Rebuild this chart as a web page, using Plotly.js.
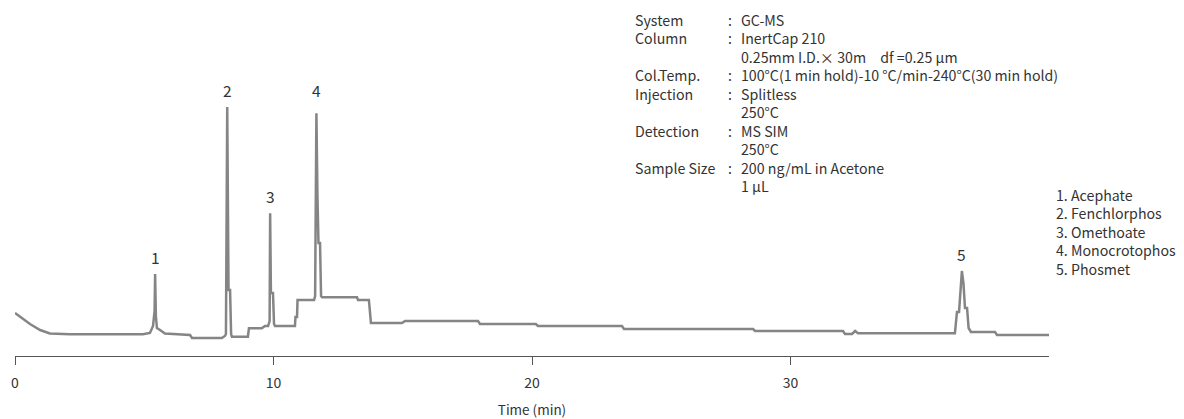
<!DOCTYPE html>
<html><head><meta charset="utf-8">
<script src="https://cdn.plot.ly/plotly-3.0.1.min.js"></script>
<style>html,body{margin:0;padding:0;background:#fff}#chart{width:1184px;height:419px}</style>
</head><body><div id="chart"></div>
<script>
// Chromatogram (time in min, detector response in arbitrary units)
const timeMin = [0, 0.27, 0.58, 0.97, 1.35, 2.13, 4.95, 5.22, 5.34, 5.40, 5.42, 5.45, 5.49, 5.61, 5.80, 6.77, 6.85, 8.00, 8.12,
  8.16, 8.21, 8.26, 8.32, 8.36, 8.39, 9.01, 9.05, 9.55, 9.67, 9.79, 9.85, 9.87, 9.90, 9.98, 10.02, 10.06,
  10.83, 10.85, 10.91, 10.93, 11.57, 11.61, 11.66, 11.70, 11.74, 11.80, 11.84, 11.88, 13.23, 13.27, 13.69, 13.77,
  14.97, 15.09, 17.91, 17.99, 20.15, 20.23, 23.48, 23.56, 28.55, 28.63, 32.03, 32.11, 32.38, 32.50, 32.61, 36.36,
  36.44, 36.52, 36.58, 36.63, 36.69, 36.75, 36.83, 36.89, 36.98, 37.91, 37.99, 40.0];
const signal = [43, 38, 32, 26, 22.5, 21.7, 21.7, 23, 30, 45, 82, 40, 28, 26, 22.5, 21, 18, 18, 20,
  22, 249, 66, 66, 22, 19.3, 19.3, 27.7, 27.7, 30, 30, 35, 142.7, 63, 63, 32, 30,
  30, 39, 39, 56, 56, 60, 242.7, 160, 113, 113, 60, 58.7, 58.7, 56, 56, 33,
  33, 35, 35, 32, 32, 30, 30, 27, 27, 25, 25, 22, 22, 25, 22.7, 22.7,
  44, 44, 73, 85, 73, 48, 48, 28, 24, 24, 21, 21];

const peakNumbers = ['1', '2', '3', '4', '5'];
const peakTimes = [5.42, 8.21, 9.87, 11.66, 36.63];
const compoundNames = ['Acephate', 'Fenchlorphos', 'Omethoate', 'Monocrotophos', 'Phosmet'];

const conditionLabels = ['System', 'Column', '', 'Col.Temp.', 'Injection', '', 'Detection', '', 'Sample Size', ''];
const conditionValues = ['GC-MS', 'InertCap 210', '0.25mm I.D.× 30m\u3000df =0.25 µm',
  '100°C(1 min hold)-10 °C/min-240°C(30 min hold)', 'Splitless', '250°C', 'MS SIM', '250°C',
  '200 ng/mL in Acetone', '1 µL'];

const xTickValues = [0, 10, 20, 30];
const xTitle = 'Time (min)';

// ---- layout helpers (pixel -> paper) ----
const W = 1184, H = 419;
const M = {l: 15, r: 135, t: 76, b: 63};
const PW = W - M.l - M.r, PH = H - M.t - M.b;
const px = x => (x - M.l) / PW;
const py = y => (H - M.b - y) / PH;
const FONT = '"Noto Sans CJK JP", "Noto Sans", sans-serif';
const TXT = '#333333';
const TS = 14.2;
const LINE = TS * 1.3;

const annotations = [];
peakNumbers.forEach((lab, i) => {
  let mx = 0;
  timeMin.forEach((t, j) => { if (Math.abs(t - peakTimes[i]) < 0.3) mx = Math.max(mx, signal[j]); });
  annotations.push({text: lab, x: peakTimes[i], y: mx + (i === 3 ? 23 : 17), xref: 'x', yref: 'y',
    showarrow: false, xanchor: 'center', yanchor: 'middle', font: {family: FONT, size: 15.5, color: TXT}});
});

// condition block: three multi-line columns
const nCond = conditionLabels.length;
const condMid = py(20 + (nCond - 1) / 2 * LINE);
const colText = arr => arr.map(s => s === '' ? ' ' : s).join('<br>');
[
  {text: colText(conditionLabels), x: 634},
  {text: colText(conditionLabels.map(l => l ? ':' : '')), x: 727},
  {text: colText(conditionValues), x: 739.5}
].forEach(c => annotations.push({text: c.text, x: px(c.x), y: condMid, xref: 'paper', yref: 'paper',
  showarrow: false, xanchor: 'left', yanchor: 'middle', align: 'left', borderpad: 0,
  font: {family: FONT, size: TS, color: TXT}}));

// compound list
const nComp = compoundNames.length;
annotations.push({text: compoundNames.map((n, i) => (i + 1) + '. ' + n).join('<br>'),
  x: px(1055), y: py(195 + (nComp - 1) / 2 * LINE), xref: 'paper', yref: 'paper',
  showarrow: false, xanchor: 'left', yanchor: 'middle', align: 'left', borderpad: 0,
  font: {family: FONT, size: TS, color: TXT}});

const data = [{
  x: timeMin, y: signal, type: 'scatter', mode: 'lines',
  line: {color: '#858585', width: 2.5}, hoverinfo: 'skip', cliponaxis: false
}];

const layout = {
  width: W, height: H, margin: M, showlegend: false,
  paper_bgcolor: '#ffffff', plot_bgcolor: '#ffffff',
  font: {family: FONT, color: TXT, size: 12},
  xaxis: {
    range: [0, 40], showline: true, linecolor: '#555555', linewidth: 1,
    ticks: 'outside', ticklen: 8, tickcolor: '#555555', tickwidth: 1,
    tickvals: xTickValues, ticktext: xTickValues.map(String),
    tickfont: {family: FONT, size: 14, color: TXT}, ticklabelstandoff: 6,
    showgrid: false, zeroline: false, fixedrange: true,
    title: {text: xTitle, font: {family: FONT, size: 13.5, color: TXT}, standoff: 18}
  },
  yaxis: {range: [0, PH], visible: false, fixedrange: true},
  annotations: annotations
};

Plotly.newPlot('chart', data, layout, {displayModeBar: false, staticPlot: true});
</script>
</body></html>
